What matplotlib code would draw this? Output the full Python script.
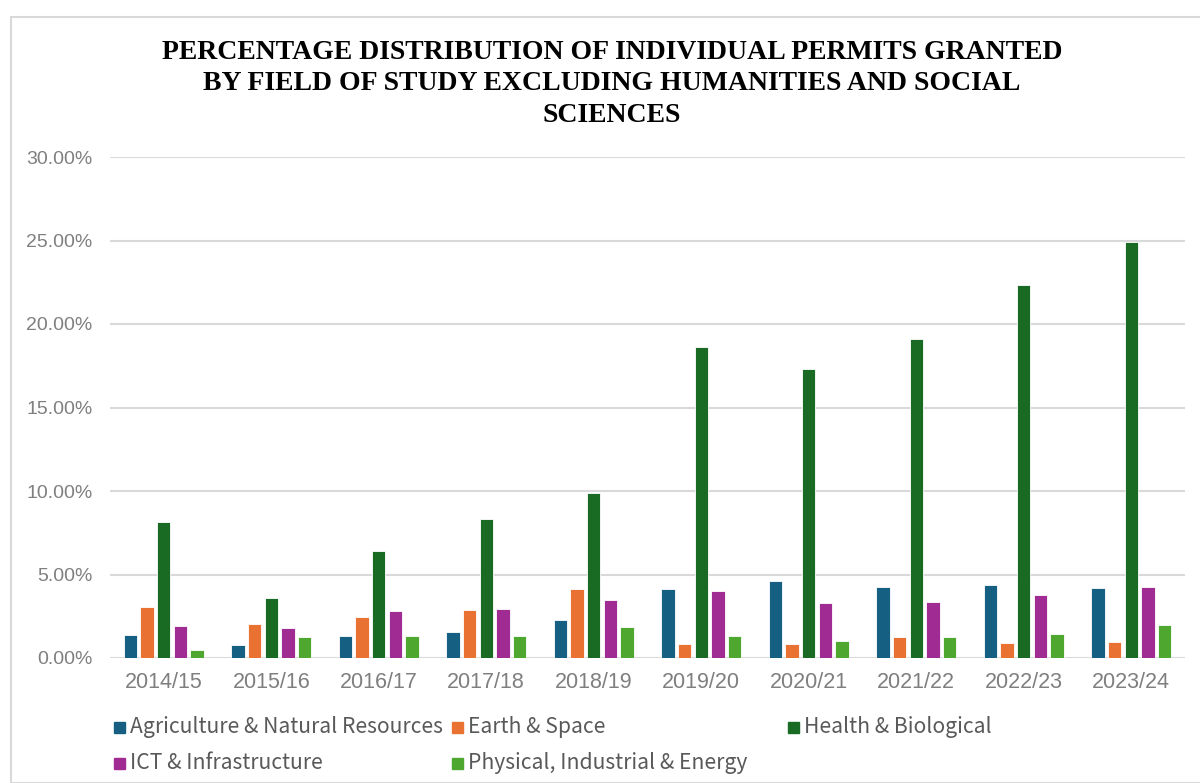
import matplotlib
matplotlib.use("Agg")
import matplotlib.pyplot as plt
import matplotlib.patches as pat
import numpy as np
from matplotlib.ticker import FuncFormatter

W, H = 1200, 783

years = ['2014/15', '2015/16', '2016/17', '2017/18', '2018/19',
         '2019/20', '2020/21', '2021/22', '2022/23', '2023/24']
fields = ['Agriculture & Natural Resources', 'Earth & Space', 'Health & Biological',
          'ICT & Infrastructure', 'Physical, Industrial & Energy']
colors = ['#156082', '#E97132', '#196B24', '#A02B93', '#4EA72E']

# values in percent
agri = [1.38, 0.76, 1.32, 1.58, 2.28, 4.16, 4.64, 4.28, 4.36, 4.22]
earth = [3.04, 2.06, 2.48, 2.90, 4.16, 0.82, 0.82, 1.24, 0.90, 0.98]
health = [8.16, 3.60, 6.38, 8.30, 9.90, 18.62, 17.32, 19.12, 22.36, 24.92]
ict = [1.94, 1.80, 2.82, 2.96, 3.46, 4.02, 3.32, 3.38, 3.80, 4.28]
phys = [0.48, 1.24, 1.32, 1.32, 1.86, 1.32, 1.04, 1.24, 1.46, 2.00]
series = [agri, earth, health, ict, phys]

fig = plt.figure(figsize=(W / 100, H / 100), dpi=100)
ax = fig.add_axes([110 / W, 1 - 658 / H, (1185 - 110) / W, (658 - 157) / H])

x = np.arange(len(years))
pitch = 0.155
bw = 0.125
for i, (vals, c) in enumerate(zip(series, colors)):
    ax.bar(x + (i - 2) * pitch, np.array(vals) / 100, width=bw, color=c,
           edgecolor='white', linewidth=0.6, zorder=3)

ax.set_xlim(-0.5, len(years) - 0.5)
ax.set_ylim(0, 0.30)
ax.set_yticks(np.arange(0, 0.301, 0.05))
ax.yaxis.set_major_formatter(FuncFormatter(lambda v, p: '{:.2f}%'.format(v * 100)))
ax.set_xticks(x)
ax.set_xticklabels(years)
ax.grid(axis='y', color='#D9D9D9', linewidth=1.5, zorder=0)
for s in ax.spines.values():
    s.set_visible(False)
ax.tick_params(length=0)
ax.tick_params(axis='y', pad=12.5, labelsize=14, labelcolor='#7F7F7F')
ax.tick_params(axis='x', pad=10, labelsize=15.5, labelcolor='#7F7F7F')
for t in ax.get_xticklabels() + ax.get_yticklabels():
    t.set_fontfamily('Liberation Sans')

# chart border
fig.patches.append(pat.Rectangle((11 / W, 0), 1.2, 1 - 17 / H, transform=fig.transFigure,
                                 fill=False, edgecolor='#D9D9D9', linewidth=1.5))

fig.text(612 / W, 1 - 84 / H,
         'PERCENTAGE DISTRIBUTION OF INDIVIDUAL PERMITS GRANTED\n'
         'BY FIELD OF STUDY EXCLUDING HUMANITIES AND SOCIAL\nSCIENCES',
         ha='center', va='center', fontsize=20, fontweight='bold',
         family='Liberation Serif', linespacing=1.32)

# legend, placed by hand to follow the original layout
legend_pos = [(114, 727), (452, 727), (788, 727), (114, 763), (452, 763)]
for (px, py), lab, c in zip(legend_pos, fields, colors):
    fig.patches.append(pat.Rectangle((px / W, 1 - (py + 5.5) / H), 11 / W, 11 / H,
                                     transform=fig.transFigure, color=c))
    fig.text((px + 16) / W, 1 - py / H, lab, ha='left', va='center', fontsize=15.2,
             color='#595959', family=['Noto Sans CJK SC', 'DejaVu Sans'])

fig.savefig('out.png', dpi=100)
